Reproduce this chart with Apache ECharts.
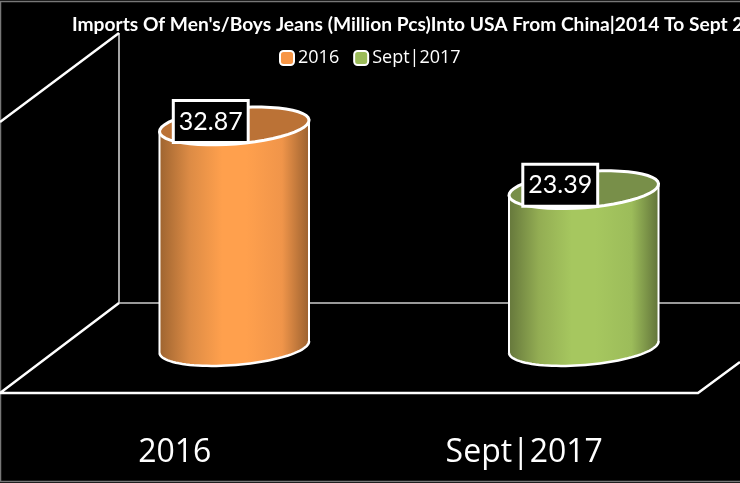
<!DOCTYPE html>
<html lang="en">
<head>
<meta charset="UTF-8" />
<title>Imports Of Men's/Boys Jeans</title>
<script src="https://cdn.jsdelivr.net/npm/echarts@6/dist/echarts.min.js"></script>
<style>
  html, body { margin: 0; padding: 0; background: #000; overflow: hidden; }
  #main { width: 740px; height: 483px; }
</style>
</head>
<body>
<div id="main"></div>
<script>
const titleText = "Imports Of Men's/Boys Jeans (Million Pcs)Into USA From China|2014 To Sept 2017";
const categories = ['2016', 'Sept|2017'];
const values2016 = [[0, 32.87]];
const valuesSept = [[1, 23.39]];

const titleFont = 'Lato, "Open Sans", sans-serif';
const labelFont = '"Open Sans", sans-serif';

// points along a tilted ellipse, from angle a0 to a1
function arc(cx, cy, rx, ry, tilt, a0, a1) {
    let pts = [];
    for (let i = 0; i <= 48; i++) {
        let a = a0 + (a1 - a0) * i / 48;
        let x = rx * Math.cos(a), y = ry * Math.sin(a);
        pts.push([cx + x * Math.cos(tilt) - y * Math.sin(tilt), cy + x * Math.sin(tilt) + y * Math.cos(tilt)]);
    }
    return pts;
}

function sideGradient(edgeL, midL, light, midR, edgeR) {
    return new echarts.graphic.LinearGradient(0, 0, 1, 0, [
        { offset: 0, color: edgeL },
        { offset: 0.2, color: midL },
        { offset: 0.42, color: light },
        { offset: 0.58, color: light },
        { offset: 0.82, color: midR },
        { offset: 1, color: edgeR }
    ]);
}

function cylinder(side, topColor) {
    return function (params, api) {
        let top = api.coord([api.value(0), api.value(1)]);
        let base = api.coord([api.value(0), 0]);
        let depth = 59.5;     // the bars stand further back than the front floor edge
        let cx = top[0] + depth;
        let rx = 75, ry = 18, tilt = -0.08;
        let front = arc(cx, base[1], rx, ry, tilt, 0, Math.PI);
        let topFront = arc(cx, top[1], rx, ry, tilt, Math.PI, 0);
        let white = { stroke: '#fff', lineWidth: 2.5, fill: null };
        let edge = { stroke: '#fff', lineWidth: 2, fill: null };
        return {
            type: 'group',
            children: [
                { type: 'polygon', shape: { points: front.concat(topFront) }, style: { fill: side, stroke: null } },
                { type: 'polygon', shape: { points: arc(cx, top[1], rx, ry, tilt, 0, Math.PI * 2) }, style: { fill: topColor, stroke: '#fff', lineWidth: 3 } },
                { type: 'polyline', shape: { points: front }, style: white },
                { type: 'line', shape: { x1: front[0][0], y1: top[1] + front[0][1] - base[1], x2: front[0][0], y2: front[0][1] }, style: edge },
                { type: 'line', shape: { x1: front[48][0], y1: top[1] + front[48][1] - base[1], x2: front[48][0], y2: front[48][1] }, style: edge },
                {
                    type: 'text',
                    z2: 10,
                    style: {
                        x: cx - 23.5, y: top[1] - 4.5,
                        text: api.value(1).toFixed(2),
                        fill: '#fff',
                        font: '25px Lato, sans-serif',
                        align: 'center', verticalAlign: 'middle',
                        backgroundColor: '#000',
                        borderColor: '#fff', borderWidth: 3,
                        padding: [7, 4, 7, 4]
                    }
                }
            ]
        };
    };
}

let myChart = echarts.init(document.getElementById('main'));
myChart.setOption({
    backgroundColor: '#000',
    animation: false,
    title: {
        text: titleText,
        left: 67, top: 10,
        textStyle: { color: '#fff', fontSize: 19.2, fontWeight: 'bold', fontFamily: titleFont }
    },
    legend: {
        top: 44, left: 274,
        itemWidth: 14, itemHeight: 14, itemGap: 14,
        icon: 'roundRect',
        textStyle: { color: '#fff', fontSize: 18, fontFamily: labelFont, padding: [0, 0, 0, -1] }
    },
    grid: { left: 0, right: 41, top: 78, bottom: 136 },
    xAxis: {
        type: 'category',
        data: categories,
        axisLine: { show: false },
        axisTick: { show: false },
        axisLabel: { color: '#fff', fontSize: 32, margin: 90, fontFamily: labelFont }
    },
    yAxis: { type: 'value', min: 0, max: 40, show: false },
    graphic: [
        // picture frame
        { type: 'rect', shape: { x: 0.5, y: 1.5, width: 760, height: 480 }, style: { stroke: '#777', lineWidth: 1.5, fill: null } },
        // wall and floor outline of the 3D box
        { type: 'line', shape: { x1: 119, y1: 33, x2: 119, y2: 303 }, style: { stroke: '#ddd', lineWidth: 1.5 } },
        { type: 'line', shape: { x1: 119, y1: 303, x2: 740, y2: 303 }, style: { stroke: '#ccc', lineWidth: 1.5 } },
        { type: 'polyline', shape: { points: [[0, 122], [119, 33]] }, style: { stroke: '#fff', lineWidth: 2.5, fill: null } },
        { type: 'polyline', shape: { points: [[119, 303], [0, 393], [698, 393], [740, 362]] }, style: { stroke: '#fff', lineWidth: 2.5, fill: null } }
    ],
    series: [
        {
            name: '2016', type: 'custom', data: values2016,
            itemStyle: { color: '#f79646', borderColor: '#fff', borderWidth: 3 },
            renderItem: cylinder(sideGradient('#9e6430', '#dc8b45', '#ffa04d', '#f0954a', '#9c6230'), '#bb7236')
        },
        {
            name: 'Sept|2017', type: 'custom', data: valuesSept,
            itemStyle: { color: '#9bbb59', borderColor: '#fff', borderWidth: 3 },
            renderItem: cylinder(sideGradient('#66783c', '#93ad53', '#a6c75f', '#9cbc5a', '#62743a'), '#788f49')
        }
    ]
});
</script>
</body>
</html>
